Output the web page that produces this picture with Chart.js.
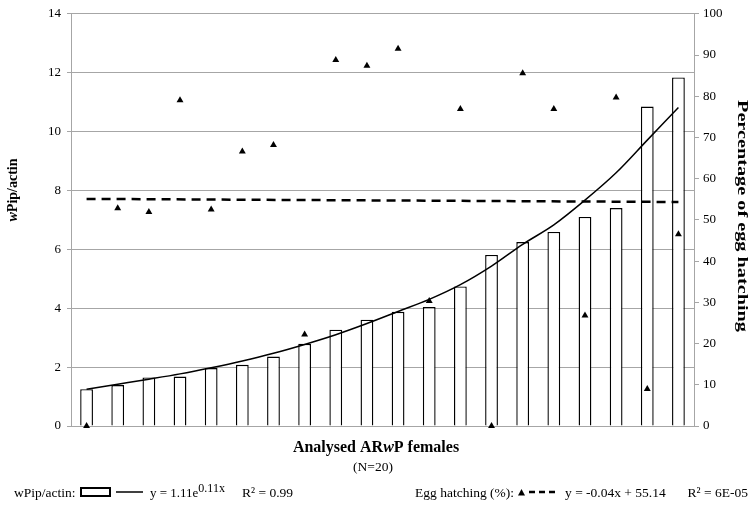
<!DOCTYPE html>
<html>
<head>
<meta charset="utf-8">
<script src="https://cdn.jsdelivr.net/npm/chart.js@4"></script>
<style>
  html, body { margin: 0; padding: 0; background: #fff; }
  #wrap { width: 750px; height: 505px; position: relative; }
</style>
</head>
<body>
<div id="wrap"><canvas id="chart" width="750" height="505"></canvas></div>
<script>
// values
const females = ['1','2','3','4','5','6','7','8','9','10','11','12','13','14','15','16','17','18','19','20'];
const wpipActin = [1.25, 1.39, 1.65, 1.68, 1.97, 2.08, 2.36, 2.79, 3.27, 3.61, 3.88, 4.04, 4.74, 5.81, 6.25, 6.59, 7.10, 7.40, 10.85, 11.84];
const eggHatching = [0, 52.8, 51.9, 79.0, 52.5, 66.6, 68.2, 22.2, 88.8, 87.4, 91.5, 30.3, 76.9, 0, 85.6, 76.9, 26.8, 79.7, 9.0, 46.5];
const expTrend = [1.25, 1.42, 1.59, 1.77, 1.98, 2.21, 2.47, 2.77, 3.10, 3.48, 3.89, 4.30, 4.80, 5.43, 6.17, 6.83, 7.67, 8.60, 9.71, 10.82];
const linTrend = [{x: '1', y: 55.1}, {x: '20', y: 54.34}];
const leftTicks = [0, 14, 2];
const rightTicks = [0, 100, 10];

const SERIF = '"Liberation Serif", "Times New Roman", serif';
const GRID = '#a6a6a6';

// draws a list of [text, font, dy] pieces one after another
function drawRuns(ctx, runs, x, y, align) {
    let total = 0;
    runs.forEach(r => { ctx.font = r[1]; total += ctx.measureText(r[0]).width; });
    let cx = x;
    if (align === 'center') cx = x - total / 2;
    if (align === 'right') cx = x - total;
    runs.forEach(r => {
        ctx.font = r[1];
        ctx.fillText(r[0], cx, y + (r[2] || 0));
        cx += ctx.measureText(r[0]).width;
    });
}

const textPlugin = {
    id: 'texts',
    afterDraw(chart) {
        const ctx = chart.ctx;
        ctx.save();
        ctx.fillStyle = '#000';
        ctx.textAlign = 'left';
        ctx.textBaseline = 'alphabetic';

        const b14 = 'bold 14px ' + SERIF;
        const bi14 = 'italic bold 14px ' + SERIF;
        const b16 = 'bold 16px ' + SERIF;
        const bi16 = 'italic bold 16px ' + SERIF;
        const n = '13.5px ' + SERIF;

        // left axis title
        ctx.save();
        ctx.translate(17, 190);
        ctx.rotate(-Math.PI / 2);
        drawRuns(ctx, [['w', bi14], ['Pip/actin', b14]], 0, 0, 'center');
        ctx.restore();

        // right axis title, spread to the reference length
        ctx.save();
        ctx.translate(738, 216);
        ctx.rotate(Math.PI / 2);
        ctx.font = 'bold 15px ' + SERIF;
        const label = 'Percentage of egg hatching';
        const w = ctx.measureText(label).width;
        ctx.scale(232 / w, 1);
        ctx.textAlign = 'center';
        ctx.fillText(label, 0, 0);
        ctx.restore();

        // x axis title
        drawRuns(ctx, [['Analysed AR', b16], ['w', bi16], ['P females', b16]], 376, 452, 'center');
        drawRuns(ctx, [['(N=20)', n]], 373, 471, 'center');

        // legend
        const ly = 497;
        drawRuns(ctx, [['wPip/actin:', n]], 14, ly);
        ctx.lineWidth = 2;
        ctx.strokeStyle = '#000';
        ctx.fillStyle = '#fff';
        ctx.fillRect(81, 488, 29, 8);
        ctx.strokeRect(81, 488, 29, 8);
        ctx.fillStyle = '#000';
        ctx.lineWidth = 1.5;
        ctx.beginPath();
        ctx.moveTo(116, 492);
        ctx.lineTo(143, 492);
        ctx.stroke();
        drawRuns(ctx, [['y = 1.11e', '13px ' + SERIF], ['0.11x', '12px ' + SERIF, -5]], 150, ly);
        drawRuns(ctx, [['R\u00b2 = 0.99', n]], 293, ly, 'right');

        drawRuns(ctx, [['Egg hatching (%):', n]], 514, ly, 'right');
        ctx.beginPath();
        ctx.moveTo(518, 495.5);
        ctx.lineTo(525, 495.5);
        ctx.lineTo(521.5, 489);
        ctx.closePath();
        ctx.fill();
        ctx.lineWidth = 2.5;
        ctx.setLineDash([6, 4]);
        ctx.beginPath();
        ctx.moveTo(529, 492);
        ctx.lineTo(556, 492);
        ctx.stroke();
        ctx.setLineDash([]);
        drawRuns(ctx, [['y = -0.04x + 55.14', n]], 565, ly);
        drawRuns(ctx, [['R\u00b2 = 6E-05', n]], 748, ly, 'right');

        ctx.restore();
    }
};

const ctx = document.getElementById('chart').getContext('2d');

new Chart(ctx, {
    type: 'bar',
    data: {
        labels: females,
        datasets: [
            {
                type: 'scatter',
                label: 'Egg hatching (%)',
                data: eggHatching,
                yAxisID: 'y1',
                showLine: false,
                pointStyle: 'triangle',
                pointRadius: 4,
                backgroundColor: '#000',
                borderColor: '#000',
                borderWidth: 0,
                clip: false,
                order: 0
            },
            {
                type: 'line',
                label: 'Linear trend',
                data: linTrend,
                yAxisID: 'y1',
                borderColor: '#000',
                borderWidth: 2.5,
                borderDash: [9, 6],
                pointRadius: 0,
                fill: false,
                order: 1
            },
            {
                type: 'line',
                label: 'Expon. trend',
                data: expTrend,
                yAxisID: 'y',
                borderColor: '#000',
                borderWidth: 1.5,
                pointRadius: 0,
                cubicInterpolationMode: 'monotone',
                fill: false,
                order: 2
            },
            {
                label: 'wPip/actin',
                data: wpipActin,
                yAxisID: 'y',
                backgroundColor: '#fff',
                borderColor: '#000',
                borderWidth: 1.4,
                barPercentage: 0.41,
                categoryPercentage: 1,
                order: 3
            }
        ]
    },
    options: {
        responsive: false,
        animation: false,
        layout: { padding: { top: 4, left: 0, right: 0, bottom: 0 } },
        plugins: {
            legend: { display: false },
            tooltip: { enabled: false },
            title: { display: false }
        },
        scales: {
            x: {
                type: 'category',
                offset: true,
                ticks: { display: false },
                grid: { display: false },
                border: { color: GRID, width: 1 },
                afterFit: s => { s.height = 79; }
            },
            y: {
                position: 'left',
                min: leftTicks[0],
                max: leftTicks[1],
                ticks: {
                    stepSize: leftTicks[2],
                    color: '#000',
                    padding: 6,
                    font: { family: SERIF, size: 13 }
                },
                grid: { color: GRID, lineWidth: 1, tickLength: 4, drawTicks: true },
                border: { color: GRID, width: 1 },
                afterFit: s => { s.width = 71; }
            },
            y1: {
                position: 'right',
                min: rightTicks[0],
                max: rightTicks[1],
                ticks: {
                    stepSize: rightTicks[2],
                    color: '#000',
                    padding: 4,
                    font: { family: SERIF, size: 13 }
                },
                grid: { drawOnChartArea: false, color: GRID, tickLength: 5 },
                border: { color: GRID, width: 1 },
                afterFit: s => { s.width = 56; }
            }
        }
    },
    plugins: [textPlugin]
});
</script>
</body>
</html>
